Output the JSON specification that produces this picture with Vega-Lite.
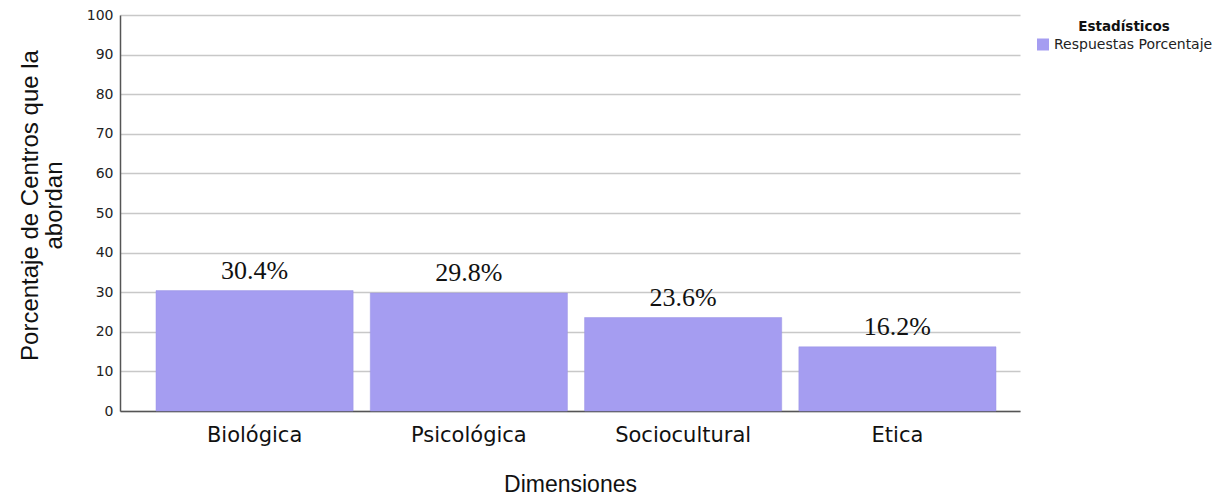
{
  "$schema": "https://vega.github.io/schema/vega-lite/v6.json",
  "autosize": "none",
  "width": 900,
  "height": 396,
  "padding": {"left": 120, "top": 15, "right": 202, "bottom": 88},
  "background": "white",
  "config": {
    "view": {"stroke": null},
    "axis": {"labelColor": "#222", "titleColor": "#111"}
  },
  "data": {
    "values": [
      {"dimension": "Biológica", "valor": 30.4, "serie": "Respuestas Porcentaje"},
      {"dimension": "Psicológica", "valor": 29.8, "serie": "Respuestas Porcentaje"},
      {"dimension": "Sociocultural", "valor": 23.6, "serie": "Respuestas Porcentaje"},
      {"dimension": "Etica", "valor": 16.2, "serie": "Respuestas Porcentaje"}
    ]
  },
  "transform": [
    {"calculate": "format(datum.valor, '.1f') + '%'", "as": "etiqueta"}
  ],
  "encoding": {
    "x": {
      "field": "dimension",
      "type": "nominal",
      "sort": null,
      "scale": {"paddingInner": 0.08, "paddingOuter": 0.14, "align": 0.6},
      "axis": {
        "title": "Dimensiones",
        "titleFont": "Liberation Sans",
        "titleFontSize": 23,
        "titleFontWeight": "normal",
        "titlePadding": 28,
        "labelFont": "DejaVu Sans",
        "labelFontSize": 21,
        "labelAngle": 0,
        "labelPadding": 13,
        "labelColor": "#111",
        "ticks": false,
        "domainColor": "#555",
        "domainWidth": 1.5
      }
    },
    "y": {
      "field": "valor",
      "type": "quantitative",
      "scale": {"domain": [0, 100], "nice": false},
      "axis": {
        "title": ["Porcentaje de Centros que la", "abordan"],
        "titleFont": "Liberation Sans",
        "titleFontSize": 24,
        "titleFontWeight": "normal",
        "titleLineHeight": 24,
        "titlePadding": 20,
        "titleY": 190,
        "values": [0, 10, 20, 30, 40, 50, 60, 70, 80, 90, 100],
        "labelFont": "DejaVu Sans",
        "labelFontSize": 14,
        "labelPadding": 7,
        "ticks": false,
        "domainColor": "#555",
        "domainWidth": 1.5,
        "grid": true,
        "gridColor": "#c8c8c8",
        "gridWidth": 1.5
      }
    }
  },
  "layer": [
    {
      "mark": {"type": "bar", "fill": "#a59df1", "stroke": "#9a92e4", "strokeWidth": 0.5},
      "encoding": {
        "color": {
          "field": "serie",
          "type": "nominal",
          "scale": {"range": ["#a59df1"]},
          "legend": {
            "title": "Estadísticos",
            "orient": "none",
            "legendX": 916,
            "legendY": 5,
            "titleFont": "DejaVu Sans",
            "titleFontSize": 13.5,
            "titleFontWeight": "bold",
            "titleColor": "#111",
            "titleAlign": "center",
            "titleAnchor": "middle",
            "titlePadding": 4,
            "labelFont": "DejaVu Sans",
            "labelFontSize": 14,
            "labelColor": "#222",
            "labelOffset": 4,
            "symbolType": "square",
            "symbolSize": 144,
            "symbolStrokeWidth": 0,
            "symbolOpacity": 1
          }
        }
      }
    },
    {
      "mark": {
        "type": "text",
        "font": "Liberation Serif",
        "fontSize": 26,
        "baseline": "alphabetic",
        "dy": -12,
        "color": "#111"
      },
      "encoding": {"text": {"field": "etiqueta"}}
    }
  ]
}
